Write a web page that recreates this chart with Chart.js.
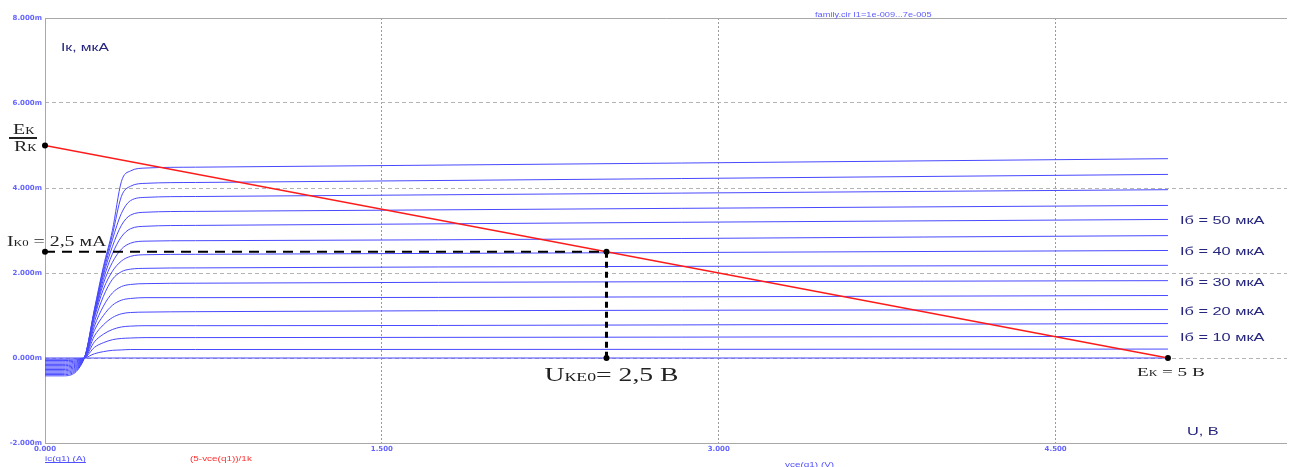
<!DOCTYPE html>
<html>
<head>
<meta charset="utf-8">
<script src="https://cdn.jsdelivr.net/npm/chart.js@4/dist/chart.umd.min.js"></script>
<style>
  html, body { margin: 0; padding: 0; background: #fff; }
  #wrap { width: 1291px; height: 467px; }
</style>
</head>
<body>
<div id="wrap"><canvas id="familyChart" width="1291" height="467"></canvas></div>
<script>
// Vce sample points, V
var vce = [0, 0.08, 0.175, 0.22, 0.26, 0.30, 0.34, 0.38, 0.45, 0.67, 5.0];

// collector current Ic, mA, for Ib = 0, 5, 10 ... 70 uA
var ic00 = [0, 0, 0, 0, 0, 0, 0, 0, 0, 0, 0];
var ic05 = [-0.03, -0.03, 0, 0.10, 0.15, 0.18, 0.19, 0.20, 0.20, 0.20, 0.21];
var ic10 = [-0.06, -0.06, 0, 0.25, 0.36, 0.43, 0.46, 0.47, 0.48, 0.48, 0.51];
var ic15 = [-0.09, -0.09, 0, 0.38, 0.56, 0.67, 0.73, 0.75, 0.76, 0.76, 0.81];
var ic20 = [-0.12, -0.12, 0, 0.52, 0.78, 0.95, 1.04, 1.07, 1.08, 1.09, 1.14];
var ic25 = [-0.15, -0.15, 0, 0.65, 1.00, 1.24, 1.36, 1.40, 1.42, 1.42, 1.47];
var ic30 = [-0.18, -0.18, 0, 0.75, 1.22, 1.53, 1.68, 1.73, 1.75, 1.76, 1.82];
var ic35 = [-0.21, -0.21, 0, 0.85, 1.45, 1.85, 2.03, 2.09, 2.11, 2.12, 2.18];
var ic40 = [-0.24, -0.24, 0, 0.95, 1.62, 2.04, 2.28, 2.39, 2.43, 2.44, 2.53];
var ic45 = [-0.27, -0.27, 0, 1.00, 1.75, 2.25, 2.56, 2.70, 2.75, 2.76, 2.88];
var ic50 = [-0.30, -0.30, 0, 1.03, 1.85, 2.45, 2.85, 3.04, 3.10, 3.12, 3.26];
var ic55 = [-0.33, -0.33, 0, 1.07, 1.95, 2.62, 3.12, 3.36, 3.43, 3.45, 3.59];
var ic60 = [-0.36, -0.36, 0, 1.10, 2.02, 2.78, 3.40, 3.70, 3.78, 3.80, 3.96];
var ic65 = [-0.39, -0.39, 0, 1.12, 2.10, 2.90, 3.80, 4.04, 4.11, 4.13, 4.32];
var ic70 = [-0.42, -0.42, 0, 1.15, 2.15, 3.00, 4.15, 4.40, 4.47, 4.49, 4.69];

// load line (5 - vce)/1k and operating point
var loadV = [0, 5];
var loadI = [5, 0];
var qV = 2.5;
var qI = 2.5;

// curve labels on the right
var ibLabelText = ['Iб = 50 мкА', 'Iб = 40 мкА', 'Iб = 30 мкА', 'Iб = 20 мкА', 'Iб = 10 мкА'];
var ibLabelCurve = [ic50, ic40, ic30, ic20, ic10];

// axis ticks
var yMin = -2, yMax = 8, yStep = 2;
var xMin = 0, xMax = 5.53, xStep = 1.5;

(function () {
    "use strict";

    var SX = 1.42; // the original screenshot is stretched sideways
    var curveColor = 'rgb(72,72,255)';
    var tickColor = '#6464ff';

    var curves = [ic00, ic05, ic10, ic15, ic20, ic25, ic30, ic35, ic40, ic45, ic50, ic55, ic60, ic65, ic70];

    function toPoints(ys) {
        return vce.map(function (v, i) { return { x: v, y: ys[i] }; });
    }

    var datasets = [];

    // marker dots
    datasets.push({
        data: [
            { x: loadV[0], y: loadI[0] }, { x: loadV[1], y: loadI[1] },
            { x: qV, y: qI }, { x: loadV[0], y: qI }, { x: qV, y: loadI[1] }
        ],
        showLine: false,
        pointRadius: 3,
        pointBackgroundColor: '#000',
        pointBorderWidth: 0,
        clip: false,
        order: 0
    });
    // dashed projections of Q point
    datasets.push({
        data: [{ x: loadV[0], y: qI }, { x: qV, y: qI }],
        borderColor: '#000',
        borderWidth: 2,
        borderDash: [10, 7],
        pointRadius: 0,
        clip: false,
        order: 1
    });
    datasets.push({
        data: [{ x: qV, y: qI }, { x: qV, y: loadI[1] }],
        borderColor: '#000',
        borderWidth: 3,
        borderDash: [6, 4],
        pointRadius: 0,
        order: 1
    });
    // load line
    datasets.push({
        data: loadV.map(function (v, i) { return { x: v, y: loadI[i] }; }),
        borderColor: '#ff1a1a',
        borderWidth: 1.3,
        pointRadius: 0,
        order: 2
    });
    // output characteristics
    curves.forEach(function (c) {
        datasets.push({
            data: toPoints(c),
            borderColor: curveColor,
            borderWidth: 1,
            pointRadius: 0,
            cubicInterpolationMode: 'monotone',
            order: 3
        });
    });

    function stretchText(ctx, parts, x, y, color) {
        ctx.save();
        ctx.translate(x, y);
        ctx.scale(SX, 1);
        ctx.fillStyle = color;
        ctx.textBaseline = 'alphabetic';
        ctx.textAlign = 'left';
        var cx = 0;
        parts.forEach(function (p) {
            ctx.font = p[1];
            ctx.fillText(p[0], cx, 0);
            cx += ctx.measureText(p[0]).width;
        });
        ctx.restore();
        return cx * SX;
    }

    var decor = {
        id: 'decor',
        beforeDatasetsDraw: function (chart) {
            var ctx = chart.ctx, a = chart.chartArea;
            ctx.save();
            ctx.strokeStyle = '#a8a8a8';
            ctx.lineWidth = 1;
            ctx.beginPath();
            ctx.moveTo(a.left + 0.5, a.bottom + 0.5);
            ctx.lineTo(a.left + 0.5, a.top + 0.5);
            ctx.lineTo(a.right, a.top + 0.5);
            ctx.moveTo(a.left, a.bottom + 0.5);
            ctx.lineTo(a.right, a.bottom + 0.5);
            ctx.stroke();
            ctx.restore();
        },
        afterDraw: function (chart) {
            var ctx = chart.ctx;
            var xs = chart.scales.x, ys = chart.scales.y;
            var serif = '"Liberation Serif", "DejaVu Serif", serif';
            var sans = '"Liberation Sans", Arial, sans-serif';
            var navy = '#26267e';

            stretchText(ctx, [['Iк, мкА', '11px ' + sans]], 61, 51, navy);
            stretchText(ctx, [['family.cir I1=1e-009...7e-005', '6.5px ' + sans]], 815, 17, '#6060ff');

            // Ek / Rk
            stretchText(ctx, [['E', '14px ' + serif], ['К', '9.5px ' + serif]], 13, 134, '#222');
            ctx.save();
            ctx.fillStyle = '#222';
            ctx.fillRect(9, 137, 28, 2);
            ctx.restore();
            stretchText(ctx, [['R', '14px ' + serif], ['К', '9.5px ' + serif]], 14, 151, '#222');

            stretchText(ctx, [['I', '14px ' + serif], ['К0', '9px ' + serif], [' = 2,5 мА', '14px ' + serif]],
                7, ys.getPixelForValue(qI) - 6, '#222');
            stretchText(ctx, [['U', '19.5px ' + serif], ['КЕ0', '12.5px ' + serif], ['= 2,5 В', '19.5px ' + serif]],
                xs.getPixelForValue(qV) - 62, ys.getPixelForValue(0) + 23, '#222');
            stretchText(ctx, [['E', '13.5px ' + serif], ['К', '9px ' + serif], [' = 5 В', '13.5px ' + serif]],
                xs.getPixelForValue(loadV[1]) - 31, ys.getPixelForValue(0) + 18, '#222');

            ibLabelText.forEach(function (t, i) {
                var c = ibLabelCurve[i];
                stretchText(ctx, [[t, '11.5px ' + sans]],
                    xs.getPixelForValue(vce[vce.length - 1]) + 12, ys.getPixelForValue(c[c.length - 1]) + 5, navy);
            });
            stretchText(ctx, [['U, В', '11.5px ' + sans]], 1187, 435, navy);

            // trace names under the axis
            var w = stretchText(ctx, [['ic(q1) (A)', '7px ' + sans]], 45, 461, '#5050ff');
            ctx.save();
            ctx.strokeStyle = '#5050ff';
            ctx.lineWidth = 1;
            ctx.beginPath();
            ctx.moveTo(45, 462.5);
            ctx.lineTo(45 + w, 462.5);
            ctx.stroke();
            ctx.restore();
            stretchText(ctx, [['(5-vce(q1))/1k', '7px ' + sans]], 190, 461, '#ff3030');
            stretchText(ctx, [['vce(q1) (V)', '7px ' + sans]], 785, 467, '#5050ff');
        }
    };

    var ctx = document.getElementById('familyChart').getContext('2d');

    var familyChart = new Chart(ctx, {
        type: 'line',
        data: { datasets: datasets },
        plugins: [decor],
        options: {
            responsive: false,
            animation: false,
            events: [],
            layout: { padding: { top: 18, right: 0, left: 0, bottom: 0 } },
            plugins: {
                legend: { display: false },
                tooltip: { enabled: false }
            },
            scales: {
                x: {
                    type: 'linear',
                    min: xMin,
                    max: xMax,
                    afterFit: function (s) { s.height = 24; },
                    ticks: {
                        stepSize: xStep,
                        includeBounds: false,
                        maxRotation: 0,
                        padding: 2,
                        color: tickColor,
                        font: { family: 'DejaVu Sans', size: 7, weight: 'bold' },
                        callback: function (v) { return v.toFixed(3); }
                    },
                    grid: { color: '#9a9a9a', drawTicks: false },
                    border: { display: false, dash: [2, 2] }
                },
                y: {
                    type: 'linear',
                    min: yMin,
                    max: yMax,
                    afterFit: function (s) { s.width = 45; },
                    ticks: {
                        stepSize: yStep,
                        padding: 3,
                        color: tickColor,
                        font: { family: 'DejaVu Sans', size: 7, weight: 'bold' },
                        callback: function (v) { return v.toFixed(3) + 'm'; }
                    },
                    grid: { color: '#b4b4b4', drawTicks: false },
                    border: { display: false, dash: [4, 3] }
                }
            }
        }
    });
})();
</script>
</body>
</html>
